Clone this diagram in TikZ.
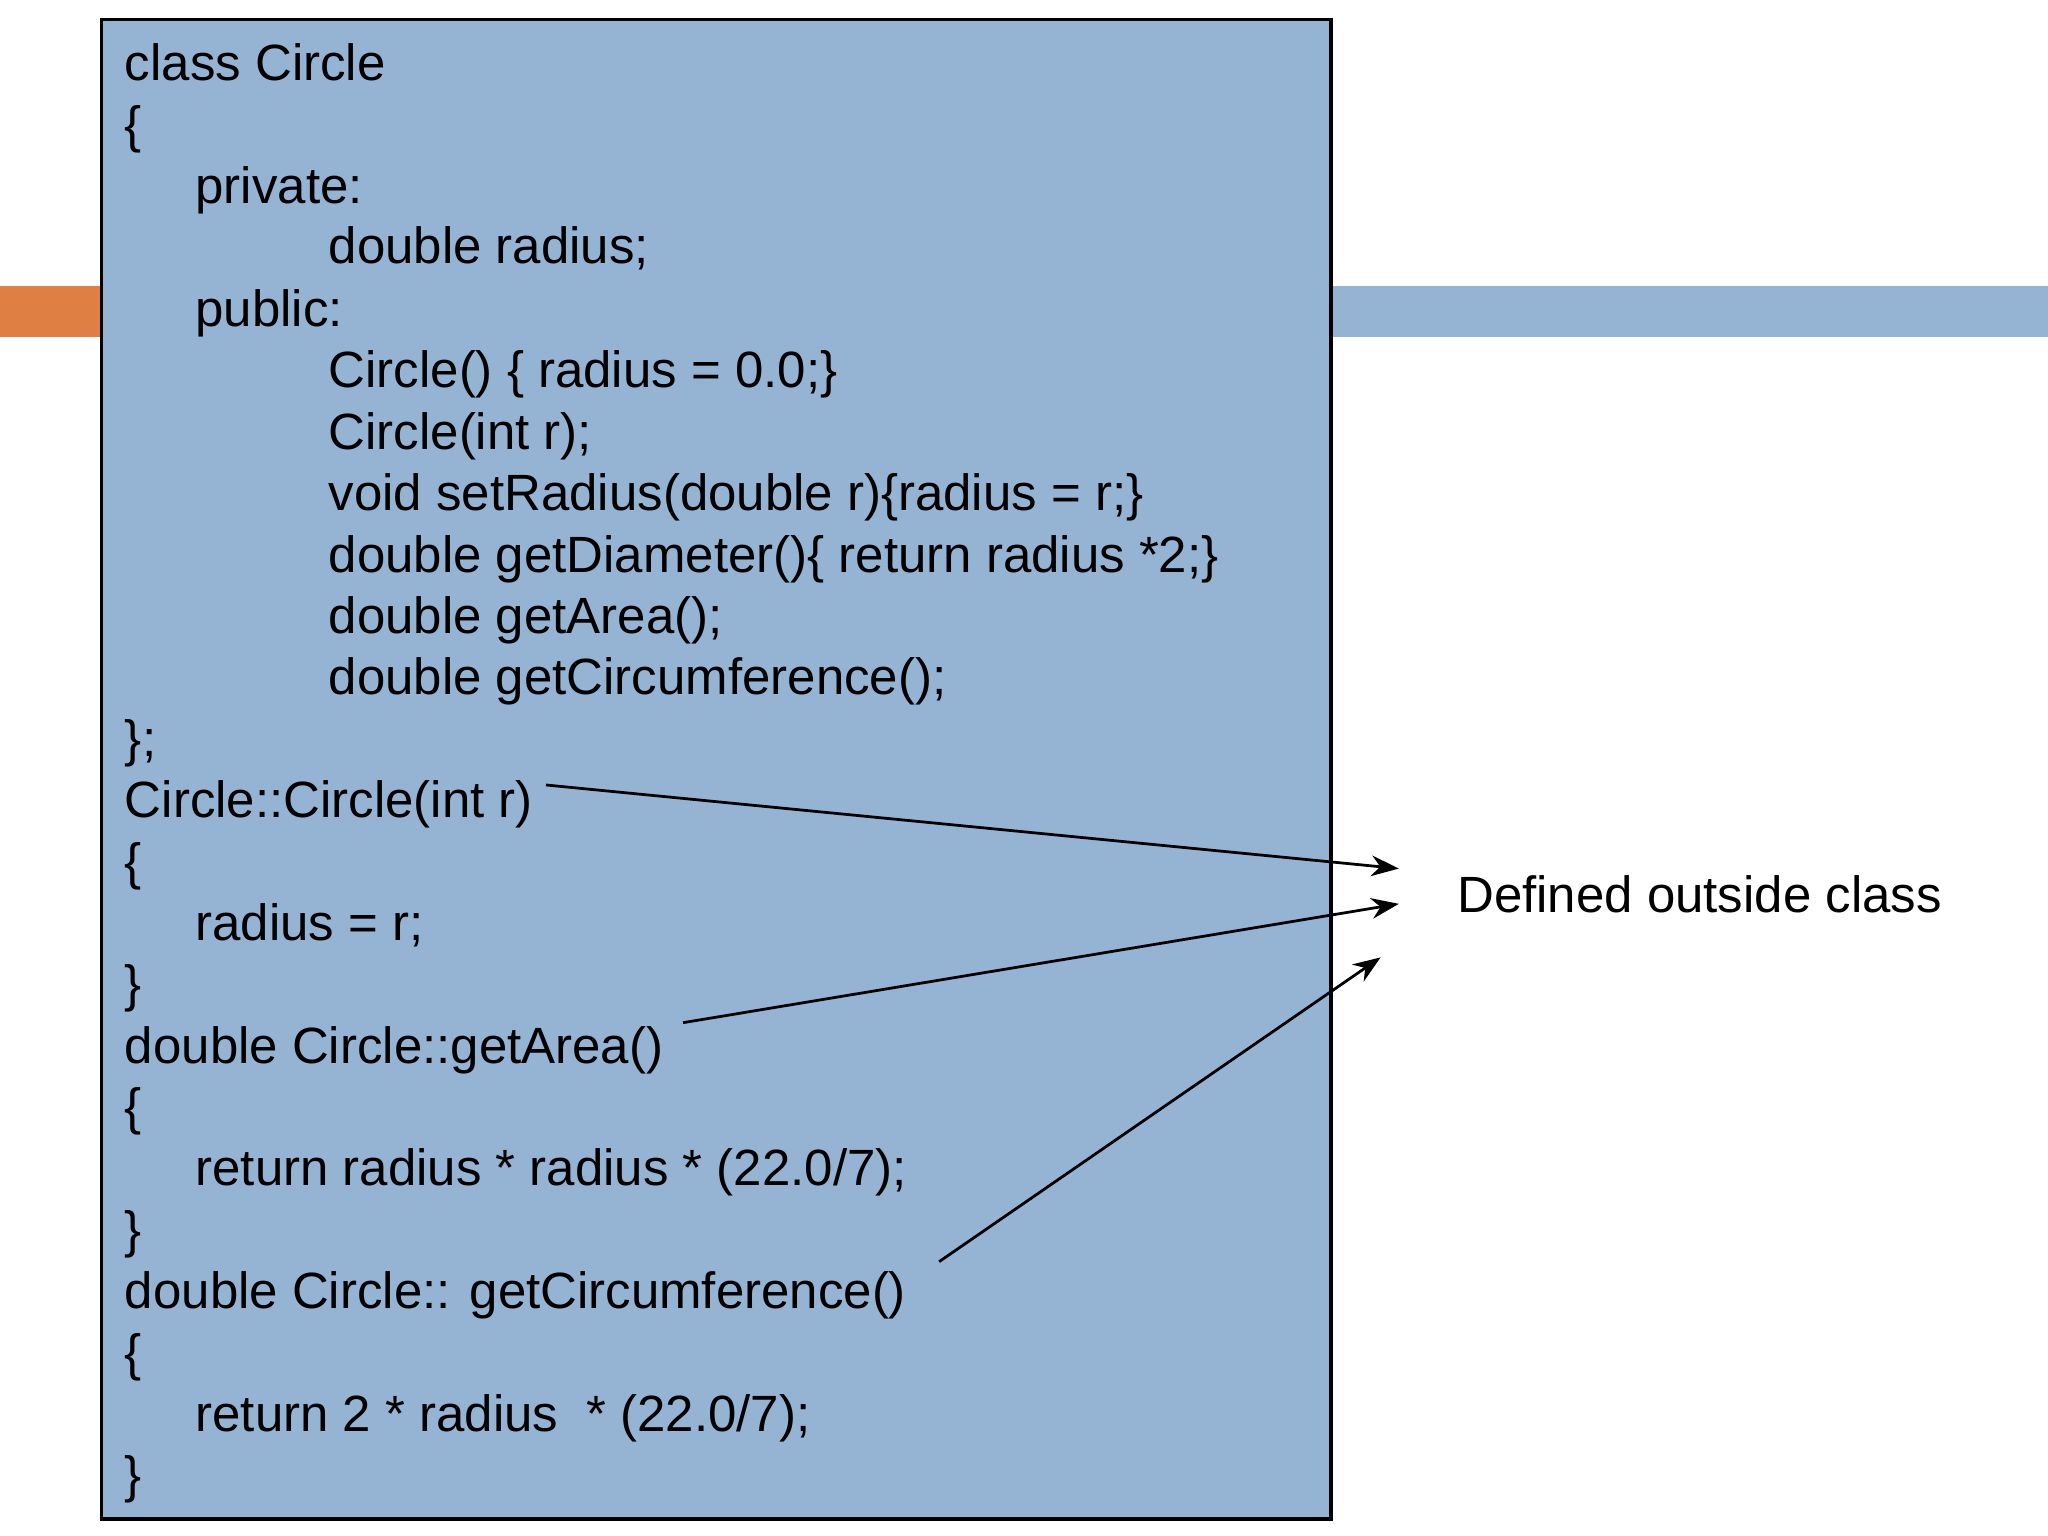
\documentclass[tikz,border=0pt]{standalone}
\usepackage{fontspec}
\usetikzlibrary{arrows.meta}
\setmainfont{Liberation Sans}
\definecolor{boxblue}{HTML}{95B3D2}
\definecolor{barorange}{HTML}{DF7F44}
\begin{document}
\begin{tikzpicture}[x=0.01cm,y=-0.01cm,
  code/.style={anchor=base west,inner sep=0pt,font=\fontsize{11.1pt}{13pt}\selectfont},
  arr/.style={-{Stealth[length=6pt,width=4.5pt]},line width=0.6pt}]
\useasboundingbox (0,0) rectangle (1568,1176);
\fill[barorange] (0,219) rectangle (78,258);
\fill[boxblue] (1019,219) rectangle (1568,258);
\draw[fill=boxblue,line width=0.7pt] (78,15) rectangle (1019,1163);
\node[code] (l1) at (95,62) {class Circle};
\node[code] (l2) at (95,109) {\{};
\node[code] (l3) at (149,156) {private:};
\node[code] (l4) at (251,202) {double radius;};
\node[code] (l5) at (149,250) {public:};
\node[code] (l6) at (251,297) {Circle() \{ radius = 0.0;\}};
\node[code] (l7) at (251,344) {Circle(int r);};
\node[code] (l8) at (251,391) {void setRadius(double r)\{radius = r;\}};
\node[code] (l9) at (251,438) {double getDiameter()\{ return radius *2;\}};
\node[code] (l10) at (251,485) {double getArea();};
\node[code] (l11) at (251,532) {double getCircumference();};
\node[code] (l12) at (95,579) {\};};
\node[code] (l13) at (95,626) {Circle::Circle(int r)};
\node[code] (l14) at (95,673) {\{};
\node[code] (l15) at (149,720) {radius = r;};
\node[code] (l16) at (95,767) {\}};
\node[code] (l17) at (95,814) {double Circle::getArea()};
\node[code] (l18) at (95,861) {\{};
\node[code] (l19) at (149,908) {return radius * radius * (22.0/7);};
\node[code] (l20) at (95,955) {\}};
\node[code] (l21) at (95,1002) {double Circle:: getCircumference()};
\node[code] (l22) at (95,1049) {\{};
\node[code] (l23) at (149,1096) {return 2 * radius~~* (22.0/7);};
\node[code] (l24) at (95,1143) {\}};
\node[code] (lab) at (1115,699) {Defined outside class};
\coordinate (s1) at (418,601); \coordinate (e1) at (1071,665);
\coordinate (s2) at (523,783); \coordinate (e2) at (1071,692);
\coordinate (s3) at (719,966); \coordinate (e3) at (1057,733);
\draw[arr] (s1) -- (e1);
\draw[arr] (s2) -- (e2);
\draw[arr] (s3) -- (e3);
\end{tikzpicture}
\end{document}
